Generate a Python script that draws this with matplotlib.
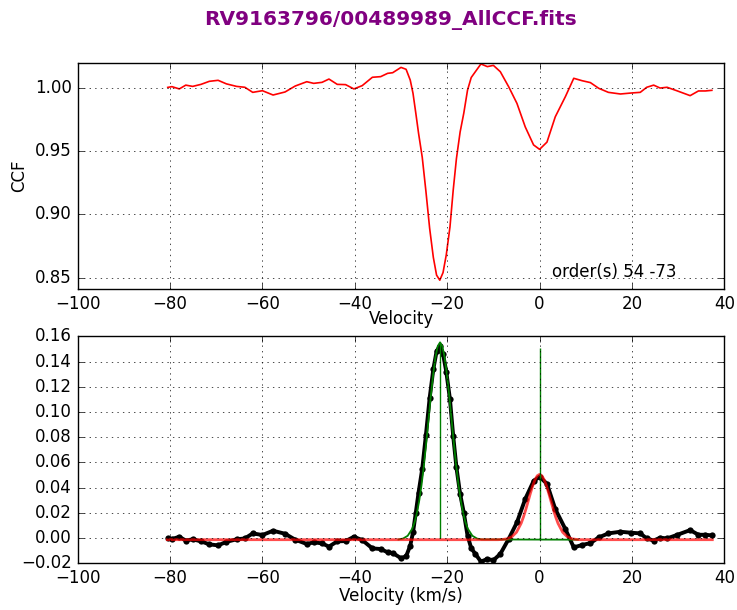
"""
CCF 双峰拟合图 - 上图为CCF，下图为残差与高斯拟合
"""

import matplotlib
matplotlib.use('Agg')
import matplotlib.pyplot as plt

# 速度网格 (km/s)
vel = [-80.5, -79.6, -78.0, -76.6, -75.1, -73.3, -71.5, -69.6, -67.8, -65.6,
       -63.8, -62.1, -60.0, -57.7, -55.1, -52.9, -50.4, -48.9, -47.1, -45.6,
       -43.8, -42.0, -40.2, -38.4, -36.2, -34.4, -32.9, -31.8, -30.0, -28.9,
       -28.0, -27.4, -26.8, -26.2, -25.4, -24.6, -23.8, -23.0, -22.3, -21.6,
       -20.9, -20.2, -19.4, -18.7, -18.0, -17.2, -16.4, -15.6, -14.8, -13.9,
       -12.7, -11.3, -10.0, -8.5, -6.7, -4.9, -3.1, -1.3, 0.0, 1.6,
       3.4, 5.6, 7.4, 9.2, 11.0, 12.8, 14.9, 17.5, 19.9, 21.8,
       23.2, 24.7, 26.1, 27.6, 29.7, 32.6, 34.4, 35.9, 37.3]

# 上图 CCF
ccf = [1.0002, 1.0008, 0.9990, 1.0020, 1.0010, 1.0026, 1.0050, 1.0058, 1.0030, 1.0010,
       1.0003, 0.9963, 0.9976, 0.9942, 0.9966, 1.0013, 1.0047, 1.0034, 1.0042, 1.0068,
       1.0026, 1.0024, 0.9990, 1.0016, 1.0082, 1.0087, 1.0113, 1.0118, 1.0160, 1.0145,
       1.0060, 0.9955, 0.9800, 0.9640, 0.9450, 0.9180, 0.8890, 0.8660, 0.8520, 0.8480,
       0.8540, 0.8680, 0.8900, 0.9190, 0.9440, 0.9650, 0.9800, 0.9980, 1.0080, 1.0126,
       1.0187, 1.0166, 1.0176, 1.0126, 1.0008, 0.9876, 0.9690, 0.9548, 0.9513, 0.9570,
       0.9770, 0.9930, 1.0074, 1.0055, 1.0040, 0.9995, 0.9963, 0.9950, 0.9958, 0.9963,
       1.0003, 1.0020, 0.9997, 1.0003, 0.9976, 0.9937, 0.9974, 0.9974, 0.9979]

# 下图 残差 (黑点)
resid = [-0.0002, -0.0008, 0.0010, -0.0020, -0.0010, -0.0026, -0.0050, -0.0058, -0.0030, -0.0010,
         -0.0003, 0.0037, 0.0024, 0.0058, 0.0034, -0.0013, -0.0047, -0.0034, -0.0042, -0.0068,
         -0.0026, -0.0024, 0.0010, -0.0016, -0.0082, -0.0087, -0.0113, -0.0118, -0.0160, -0.0145,
         -0.0060, 0.0045, 0.0200, 0.0360, 0.0550, 0.0820, 0.1110, 0.1340, 0.1480, 0.1525,
         0.1460, 0.1320, 0.1100, 0.0810, 0.0560, 0.0350, 0.0200, 0.0020, -0.0080, -0.0126,
         -0.0187, -0.0166, -0.0176, -0.0126, -0.0008, 0.0124, 0.0310, 0.0452, 0.0487, 0.0430,
         0.0230, 0.0070, -0.0074, -0.0055, -0.0040, 0.0005, 0.0037, 0.0050, 0.0042, 0.0037,
         -0.0003, -0.0020, 0.0003, -0.0003, 0.0024, 0.0063, 0.0026, 0.0026, 0.0021]

# 绿色拟合曲线 (主峰)
green_vel = [-30.55, -29.55, -28.55, -27.55, -27.05, -26.55, -26.05, -25.55, -25.05, -24.55,
             -24.05, -23.55, -23.05, -22.55, -22.05, -21.55, -21.05, -20.55, -20.05, -19.55,
             -19.05, -18.55, -18.05, -17.55, -17.05, -16.55, -16.05, -15.55, -14.55, -13.55,
             -12.55, 8.3]
green_fit = [-0.0011, -0.0004, 0.0018, 0.0075, 0.0126, 0.0199, 0.0297, 0.0422, 0.0574, 0.0749,
             0.0936, 0.1123, 0.1294, 0.1432, 0.1521, 0.1552, 0.1521, 0.1432, 0.1294, 0.1123,
             0.0936, 0.0749, 0.0574, 0.0422, 0.0297, 0.0199, 0.0126, 0.0075, 0.0018, -0.0004,
             -0.0011, -0.0013]

# 红色拟合曲线 (次峰)
red_vel = [-80.6, -9.0, -8.0, -7.0, -6.0, -5.0, -4.0, -3.5, -3.0, -2.5,
           -2.0, -1.5, -1.0, -0.5, 0.0, 0.5, 1.0, 1.5, 2.0, 2.5,
           3.0, 3.5, 4.0, 5.0, 6.0, 7.0, 8.0, 9.0, 37.4]
red_fit = [-0.0013, -0.0013, -0.0011, -0.0006, 0.0010, 0.0046, 0.0116, 0.0166, 0.0224, 0.0288,
           0.0353, 0.0413, 0.0462, 0.0494, 0.0505, 0.0494, 0.0462, 0.0413, 0.0353, 0.0288,
           0.0224, 0.0166, 0.0116, 0.0046, 0.0010, -0.0006, -0.0011, -0.0013, -0.0013]

# 拟合中心竖线
centers = [-21.55, 0.0]
center_bottom = [0.0, -0.0013]
center_top = [0.1552, 0.151]

plt.style.use('classic')
plt.rcParams['figure.facecolor'] = 'white'
plt.rcParams['savefig.facecolor'] = 'white'
plt.rcParams['font.family'] = ['DejaVu Sans']

fig = plt.figure(figsize=(7.37, 6.10), dpi=100)
fig.text(0.5305, 0.967, 'RV9163796/00489989_AllCCF.fits', ha='center', va='center',
         fontsize=14.5, fontweight='bold', color='purple')

# 上图
ax1 = fig.add_axes([0.1054, 0.5257, 0.8774, 0.3715])
ax1.plot(vel, ccf, 'r-', linewidth=1.2)
ax1.set_xlim(-100, 40)
ax1.set_ylim(0.8408, 1.0197)
ax1.set_yticks([0.85, 0.90, 0.95, 1.00])
ax1.set_xlabel('Velocity', labelpad=-2)
ax1.set_ylabel('CCF')
ax1.grid(True)
ax1.text(2.7, 0.8505, 'order(s) 54 -73', fontsize=12)

# 下图
ax2 = fig.add_axes([0.1054, 0.0766, 0.8774, 0.3721])
ax2.plot(vel, resid, 'k-', linewidth=2.8, solid_capstyle='round')
ax2.plot(vel, resid, 'ko', markersize=4.5, markeredgewidth=0)
ax2.plot(green_vel, green_fit, color='g', linewidth=1.3)
ax2.plot(red_vel, red_fit, color='r', linewidth=2.0, alpha=0.7)
ax2.vlines(centers, center_bottom, center_top, colors='g', linewidth=1.0)
ax2.set_xlim(-100, 40)
ax2.set_ylim(-0.02, 0.16)
ax2.set_yticks([-0.02, 0.0, 0.02, 0.04, 0.06, 0.08, 0.10, 0.12, 0.14, 0.16])
ax2.set_xlabel('Velocity (km/s)', labelpad=0)
ax2.grid(True)

plt.savefig('out.png', dpi=100)
plt.close()
